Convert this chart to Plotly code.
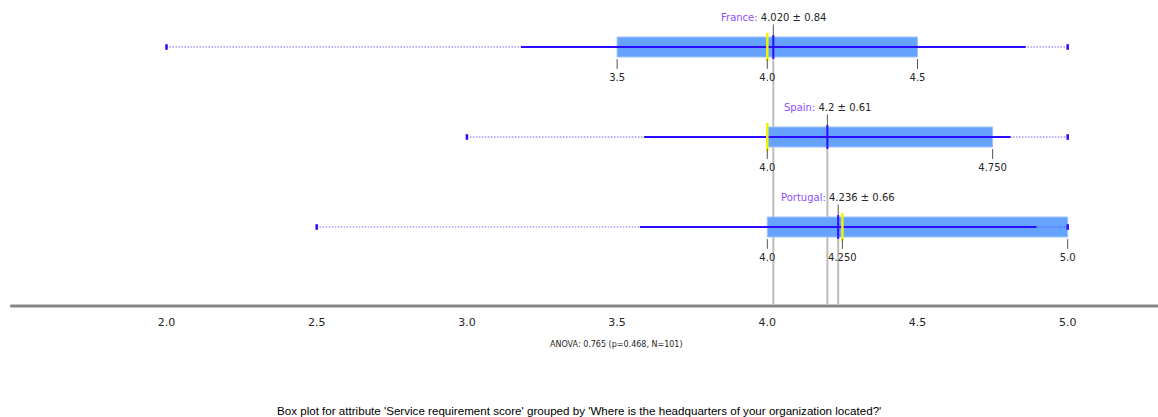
import plotly.graph_objects as go

# Box-plot statistics per group
groups = ["France", "Spain", "Portugal"]
mins = [2.0, 3.0, 2.5]
q1s = [3.5, 4.0, 4.0]
medians = [4.0, 4.0, 4.25]
q3s = [4.5, 4.75, 5.0]
maxs = [5.0, 5.0, 5.0]
means = [4.020, 4.2, 4.236]
sds = [0.84, 0.61, 0.66]
mean_text = ["4.020", "4.2", "4.236"]
sd_text = ["0.84", "0.61", "0.66"]
quart_text = [["3.5", "4.0", "4.5"], ["4.0", "4.750"], ["4.0", "4.250", "5.0"]]

tick_vals = [2.0, 2.5, 3.0, 3.5, 4.0, 4.5, 5.0]
tick_text = ["2.0", "2.5", "3.0", "3.5", "4.0", "4.5", "5.0"]
axis_start = 1.48
axis_end = 5.31

anova_text = "ANOVA: 0.765 (p=0.468, N=101)"
caption = ("Box plot for attribute 'Service requirement score' grouped by "
           "'Where is the headquarters of your organization located?'")

W, H = 1158, 417
FIRST_ROW, ROW_STEP, BOX_H = 47, 90, 20
AXIS_Y = 306

BOX_FILL = "#66a3ff"
LINE_BLUE = "#2a0cff"
DOT_BLUE = "rgba(90,70,255,0.55)"
LABEL_PURPLE = "#8c4fff"
TEXT_DARK = "#262626"
FONT = "DejaVu Sans"

rows = [FIRST_ROW + ROW_STEP * i for i in range(len(groups))]

fig = go.Figure()

# Grey guide lines from each mean down to the axis
for m, r in zip(means, rows):
    fig.add_shape(type="line", xref="x", yref="y", x0=m, x1=m, y0=r - 12, y1=AXIS_Y,
                  line=dict(color="#bdbdbd", width=2), layer="below")

# Full range (min..max) dotted line
for mn, mx, r in zip(mins, maxs, rows):
    fig.add_trace(go.Scatter(x=[mn, mx], y=[r, r], mode="lines",
                             line=dict(color=DOT_BLUE, width=1.5, dash="1.5px,1.5px"),
                             hoverinfo="skip", showlegend=False))

# Interquartile boxes
fig.add_trace(go.Bar(orientation="h", y=rows,
                     x=[b - a for a, b in zip(q1s, q3s)], base=q1s,
                     width=BOX_H, marker=dict(color=BOX_FILL, line=dict(color="#9cc2ff", width=1)),
                     hoverinfo="skip", showlegend=False))

# Mean +/- standard deviation
for m, s, r in zip(means, sds, rows):
    fig.add_trace(go.Scatter(x=[m - s, m + s], y=[r, r], mode="lines",
                             line=dict(color=LINE_BLUE, width=2),
                             hoverinfo="skip", showlegend=False))

# Min / max end ticks
fig.add_trace(go.Scatter(x=mins + maxs, y=rows + rows, mode="markers",
                         marker=dict(symbol="line-ns", size=4, line=dict(color=LINE_BLUE, width=2.5)),
                         hoverinfo="skip", showlegend=False))

# Medians
fig.add_trace(go.Scatter(x=medians, y=rows, mode="markers",
                         marker=dict(symbol="line-ns", size=20, line=dict(color="#f2f200", width=2.5)),
                         hoverinfo="skip", showlegend=False))

# Means
fig.add_trace(go.Scatter(x=means, y=rows, mode="markers",
                         marker=dict(symbol="line-ns", size=17, line=dict(color=LINE_BLUE, width=2)),
                         hoverinfo="skip", showlegend=False))

# Small ticks above boxes under each mean label
fig.add_trace(go.Scatter(x=means, y=[r - 17 for r in rows], mode="markers",
                         marker=dict(symbol="line-ns", size=8, line=dict(color="#555555", width=1)),
                         hoverinfo="skip", showlegend=False))

# Quartile ticks and labels below boxes
for q1, md, q3, labels, r in zip(q1s, medians, q3s, quart_text, rows):
    vals = sorted(set([q1, md, q3]))
    fig.add_trace(go.Scatter(x=vals, y=[r + 17] * len(vals), mode="markers",
                             marker=dict(symbol="line-ns", size=7, line=dict(color="#555555", width=1)),
                             hoverinfo="skip", showlegend=False))
    fig.add_trace(go.Scatter(x=vals, y=[r + 31] * len(vals), mode="text", text=labels,
                             textfont=dict(family=FONT, size=10, color=TEXT_DARK),
                             hoverinfo="skip", showlegend=False))

# Mean labels
for g, mt, st, m, r in zip(groups, mean_text, sd_text, means, rows):
    fig.add_annotation(x=m, y=r - 30, xref="x", yref="y", showarrow=False,
                       text=f"<span style='color:{LABEL_PURPLE}'>{g}:</span> {mt} \u00b1 {st}",
                       font=dict(family=FONT, size=10, color=TEXT_DARK))

# Axis line with tick gaps
fig.add_shape(type="line", xref="x", yref="y", x0=axis_start, x1=axis_end, y0=AXIS_Y, y1=AXIS_Y,
              line=dict(color="#c4c4c4", width=4))
fig.add_shape(type="line", xref="x", yref="y", x0=axis_start, x1=axis_end, y0=AXIS_Y, y1=AXIS_Y,
              line=dict(color="#858585", width=2))
fig.add_trace(go.Scatter(x=[axis_start] + tick_vals, y=[AXIS_Y] * (len(tick_vals) + 1), mode="markers",
                         marker=dict(symbol="square", size=3, color="white",
                                     line=dict(color="white", width=0)),
                         hoverinfo="skip", showlegend=False))

fig.add_annotation(x=0.532, y=344, xref="paper", yref="y", showarrow=False, text=anova_text,
                   font=dict(family=FONT, size=8, color=TEXT_DARK))
fig.add_annotation(x=0.5, y=410, xref="paper", yref="y", showarrow=False, text=caption,
                   font=dict(family="Liberation Sans", size=11.6, color="#000000"))

x_left = 2.0 - 166.5 / 300.4
x_right = x_left + W / 300.4

fig.update_layout(
    width=W, height=H, autosize=False,
    margin=dict(l=0, r=0, t=0, b=0),
    paper_bgcolor="white", plot_bgcolor="white",
    barmode="overlay",
    xaxis=dict(range=[x_left, x_right], showgrid=False, zeroline=False, showline=False,
               visible=False, fixedrange=True),
    yaxis=dict(range=[H, 0], visible=False, fixedrange=True),
)

# Tick labels along the axis
fig.add_trace(go.Scatter(x=tick_vals, y=[323] * len(tick_vals), mode="text", text=tick_text,
                         textfont=dict(family=FONT, size=11, color=TEXT_DARK),
                         hoverinfo="skip", showlegend=False))

fig.write_html("out.html")
